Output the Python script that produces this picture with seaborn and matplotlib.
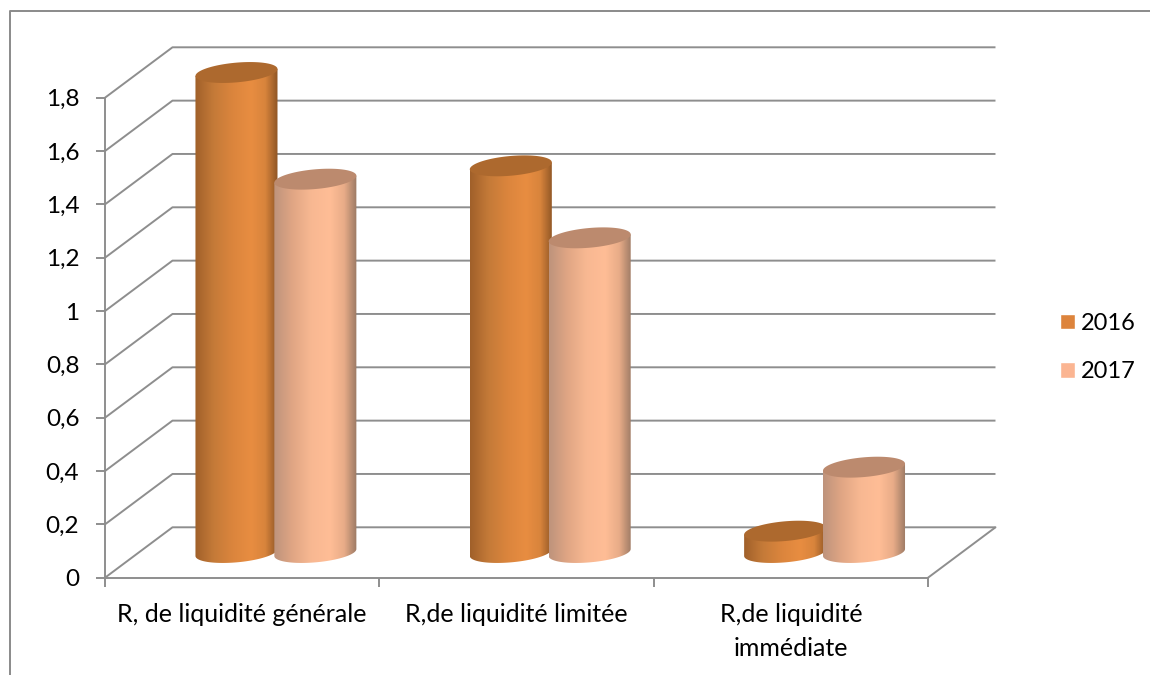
import matplotlib
matplotlib.use("Agg")
import matplotlib.pyplot as plt
import numpy as np
import pandas as pd
import seaborn as sns
from matplotlib.colors import LinearSegmentedColormap
from matplotlib.lines import Line2D
from matplotlib.patches import Patch, Polygon

CATEGORIES = ["R, de liquidité générale", "R,de liquidité limitée", "R,de liquidité\nimmédiate"]
YEARS = ["2016", "2017"]
VALUES_2016 = [1.80, 1.45, 0.08]
VALUES_2017 = [1.40, 1.18, 0.32]
Y_TICKS = [0, 0.2, 0.4, 0.6, 0.8, 1, 1.2, 1.4, 1.6, 1.8]
Y_LABELS = ["0", "0,2", "0,4", "0,6", "0,8", "1", "1,2", "1,4", "1,6", "1,8"]

GREY = "#8E8E8E"
BORDER = "#8A8A8A"
SWATCH = {"2016": "#DD843C", "2017": "#FBB592"}
TOPS = {"2016": "#AD692E", "2017": "#BC8A6E"}
SHADES = {
    "2016": ["#A0602A", "#C47A38", "#DB853D", "#E88D41", "#D8843C", "#8F5625"],
    "2017": ["#BE937C", "#E0A684", "#F8B892", "#FFBD96", "#E8AC88", "#9C7A64"],
}

# depth of the fake 3D box, in data units
DEPTH_X = 0.246
DEPTH_Y = 0.189
HALF_W = 0.1495
TILT = 0.013
ELL_H = 0.037

plt.rcParams["figure.dpi"] = 100
sns.set_theme(style="white")
plt.rcParams["font.family"] = ["Lato", "DejaVu Sans"]

df = pd.DataFrame({
    "ratio": CATEGORIES * 2,
    "year": [YEARS[0]] * 3 + [YEARS[1]] * 3,
    "value": VALUES_2016 + VALUES_2017,
})

fig = plt.figure(figsize=(11.5, 6.75), facecolor="white")
ax = fig.add_axes([105 / 1150, (675 - 577.7) / 675, 823 / 1150, 480 / 675])
sns.barplot(data=df, x="ratio", y="value", hue="year", width=0.575, palette=SWATCH, legend=False, ax=ax)

x_lo, x_hi = -0.5, 2.5
y_lo, y_hi = 0, 1.8

# back wall and side of the box
for v in Y_TICKS:
    ax.plot([x_lo, x_lo + DEPTH_X, x_hi + DEPTH_X], [v, v + DEPTH_Y, v + DEPTH_Y],
            color=GREY, lw=1.4, clip_on=False, zorder=1, solid_capstyle="butt")
ax.plot([x_hi, x_hi + DEPTH_X], [0, DEPTH_Y], color=GREY, lw=1.4, clip_on=False, zorder=1)

t = np.linspace(0, 2 * np.pi, 121)
half = np.linspace(np.pi, 2 * np.pi, 61)

# swap each flat bar for a shaded cylinder
for year, bars in zip(YEARS, ax.containers):
    cmap = LinearSegmentedColormap.from_list(
        "c" + year, list(zip([0, 0.22, 0.45, 0.68, 0.85, 1], SHADES[year])))
    for bar in bars:
        bar.set_visible(False)
        cx = bar.get_x() + bar.get_width() / 2 + DEPTH_X / 2
        bottom = DEPTH_Y / 2
        top = bar.get_height() + DEPTH_Y / 2

        xs = cx + HALF_W * np.cos(half)
        ys = bottom + ELL_H * np.sin(half) + TILT * np.cos(half)
        outline = np.column_stack([
            np.r_[cx - HALF_W, xs, cx + HALF_W],
            np.r_[top - TILT, ys, top + TILT],
        ])
        clip = Polygon(outline, closed=True, transform=ax.transData)
        im = ax.imshow(np.linspace(0, 1, 128).reshape(1, -1), cmap=cmap, aspect="auto",
                       extent=[cx - HALF_W, cx + HALF_W, bottom - 0.06, top + 0.06],
                       zorder=3, interpolation="bilinear")
        im.set_clip_box(fig.bbox)
        im.set_clip_path(clip)

        cap = np.column_stack([cx + HALF_W * np.cos(t),
                               top + ELL_H * np.sin(t) + TILT * np.cos(t)])
        ax.add_patch(Polygon(cap, closed=True, facecolor=TOPS[year], edgecolor="none",
                             clip_on=False, zorder=3))

ax.set_xlim(x_lo, x_hi)
ax.set_ylim(y_lo, y_hi)
ax.grid(False)
ax.set_xlabel("")
ax.set_ylabel("")

for side in ["top", "right"]:
    ax.spines[side].set_visible(False)
for side in ["left", "bottom"]:
    ax.spines[side].set_color(GREY)
    ax.spines[side].set_linewidth(1.4)

ax.set_yticks(Y_TICKS, Y_LABELS)
ax.set_xticks(range(3), CATEGORIES)
ax.set_xticks([-0.5, 0.5, 1.5, 2.5], minor=True)
ax.tick_params(axis="y", left=True, length=6.5, width=1.4, color=GREY, labelsize=17.5, labelcolor="black", pad=12)
ax.tick_params(axis="x", which="major", bottom=False, labelsize=18, labelcolor="black", pad=12)
ax.tick_params(axis="x", which="minor", bottom=True, length=6.5, width=1.4, color=GREY)
for lab in ax.get_xticklabels():
    lab.set_linespacing(1.58)

handles = [Patch(facecolor=SWATCH[y], label=y) for y in YEARS]
fig.legend(handles=handles, loc="center left", bbox_to_anchor=(1060 / 1150, 1 - 347.5 / 675), frameon=False,
           fontsize=17, labelcolor="black", handlelength=0.635, handleheight=0.635,
           handletextpad=0.25, labelspacing=1.15, borderaxespad=0, borderpad=0)

# chart frame, cropped on the right and bottom in the source picture
fig.add_artist(Line2D([10 / 1150, 10 / 1150, 1], [0, 1 - 10.5 / 675, 1 - 10.5 / 675],
                      color=BORDER, lw=1.4))

fig.savefig("out.png", dpi=100)
